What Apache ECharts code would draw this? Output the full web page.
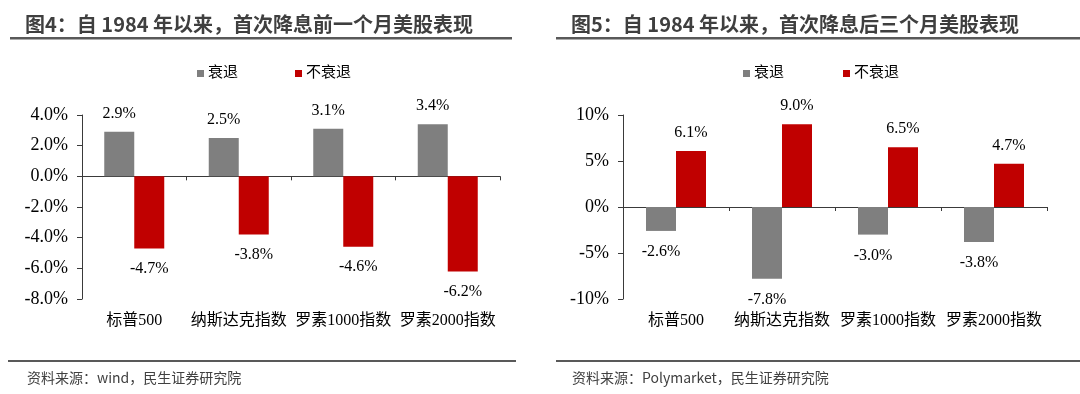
<!DOCTYPE html>
<html><head><meta charset="utf-8">
<script src="https://cdn.jsdelivr.net/npm/echarts@6/dist/echarts.min.js"></script>
<style>html,body{margin:0;padding:0;background:#fff}#c{width:1080px;height:394px}</style>
</head><body><div id="c"></div>
<script>
const categories = ['标普500', '纳斯达克指数', '罗素1000指数', '罗素2000指数'];
const seriesNames = ['衰退', '不衰退'];
// Figure 4: one month before first rate cut
const beforeRecession = [2.9, 2.5, 3.1, 3.4];
const beforeNoRecession = [-4.7, -3.8, -4.6, -6.2];
// Figure 5: three months after first rate cut
const afterRecession = [-2.6, -7.8, -3.0, -3.8];
const afterNoRecession = [6.1, 9.0, 6.5, 4.7];
const titleLeft = '图4：自 1984 年以来，首次降息前一个月美股表现';
const titleRight = '图5：自 1984 年以来，首次降息后三个月美股表现';
const sourceLeft = '资料来源：wind，民生证券研究院';
const sourceRight = '资料来源：Polymarket，民生证券研究院';

const serif = '"Liberation Serif", "Times New Roman", "Noto Sans CJK SC", serif';
const sans = '"Noto Sans CJK SC", "Noto Sans", sans-serif';
const GRAY = '#7f7f7f', RED = '#c00000', AX = '#3a3a3a';

const chart = echarts.init(document.getElementById('c'), null, {renderer: 'canvas'});

function xAxes(gi) {
  return [
    {gridIndex: gi, type: 'category', data: categories,
     axisLine: {show: true, onZero: true, lineStyle: {color: AX, width: 1}},
     axisTick: {show: true, length: 4, lineStyle: {color: AX}},
     axisLabel: {show: false}},
    {gridIndex: gi, type: 'category', data: categories, position: 'bottom',
     axisLine: {show: false, onZero: false}, axisTick: {show: false},
     axisLabel: {show: true, interval: 0, hideOverlap: false, color: '#000', fontFamily: serif, fontSize: 16, margin: 14}}
  ];
}
function yAxis(gi, min, max, interval, dec) {
  return {gridIndex: gi, type: 'value', min: min, max: max, interval: interval,
    axisLine: {show: true, lineStyle: {color: AX}},
    axisTick: {show: true, length: 5, lineStyle: {color: AX}},
    splitLine: {show: false},
    axisLabel: {color: '#000', fontFamily: serif, fontSize: 18, margin: 14,
      formatter: v => v.toFixed(dec) + '%'}};
}
function bar(name, data, xi, yi, color, pos, dist) {
  return {name: name, type: 'bar', xAxisIndex: xi, yAxisIndex: yi, data: data,
    barWidth: 30, barGap: '0%',
    itemStyle: {color: color},
    label: {show: true, position: pos, distance: dist, color: '#000',
      fontFamily: serif, fontSize: 16, formatter: p => p.value.toFixed(1) + '%'}};
}

chart.setOption({
  animation: false,
  backgroundColor: '#fff',
  title: [
    {text: titleLeft, left: 20, top: 9, textStyle: {fontFamily: sans, fontWeight: 'bold', fontSize: 20, color: '#3f3f3f'}},
    {text: titleRight, left: 566, top: 9, textStyle: {fontFamily: sans, fontWeight: 'bold', fontSize: 20, color: '#3f3f3f'}},
    {text: sourceLeft, left: 22, top: 366, textStyle: {fontFamily: sans, fontWeight: 'normal', fontSize: 14, color: '#404040'}},
    {text: sourceRight, left: 567, top: 366, textStyle: {fontFamily: sans, fontWeight: 'normal', fontSize: 14, color: '#404040'}}
  ],
  legend: [
    {left: 192, top: 61, icon: 'rect', itemWidth: 7, itemHeight: 7, itemGap: 57,
     data: seriesNames, selectedMode: false,
     textStyle: {fontFamily: serif, fontSize: 15, color: '#000', padding: [0,0,0,-1]}},
    {left: 738, top: 61, icon: 'rect', itemWidth: 7, itemHeight: 7, itemGap: 59,
     data: seriesNames, selectedMode: false,
     textStyle: {fontFamily: serif, fontSize: 15, color: '#000', padding: [0,0,0,-1]}}
  ],
  grid: [
    {left: 82, right: 580, top: 115, bottom: 95},
    {left: 623, right: 33, top: 115, bottom: 95}
  ],
  xAxis: xAxes(0).concat(xAxes(1)),
  yAxis: [yAxis(0, -8, 4, 2, 1), yAxis(1, -10, 10, 5, 0)],
  series: [
    bar(seriesNames[0], beforeRecession, 0, 0, GRAY, 'top', 10),
    bar(seriesNames[1], beforeNoRecession, 0, 0, RED, 'bottom', 12),
    bar(seriesNames[0], afterRecession, 2, 1, GRAY, 'bottom', 13),
    bar(seriesNames[1], afterNoRecession, 2, 1, RED, 'top', 10)
  ],
  graphic: [
    {type: 'rect', shape: {x: 10, y: 37, width: 502, height: 2.5}, style: {fill: '#595959'}},
    {type: 'rect', shape: {x: 556, y: 37, width: 524, height: 2.5}, style: {fill: '#595959'}},
    {type: 'rect', shape: {x: 8, y: 360, width: 508, height: 2}, style: {fill: '#595959'}},
    {type: 'rect', shape: {x: 556, y: 360, width: 524, height: 2}, style: {fill: '#595959'}}
  ]
});
</script></body></html>
